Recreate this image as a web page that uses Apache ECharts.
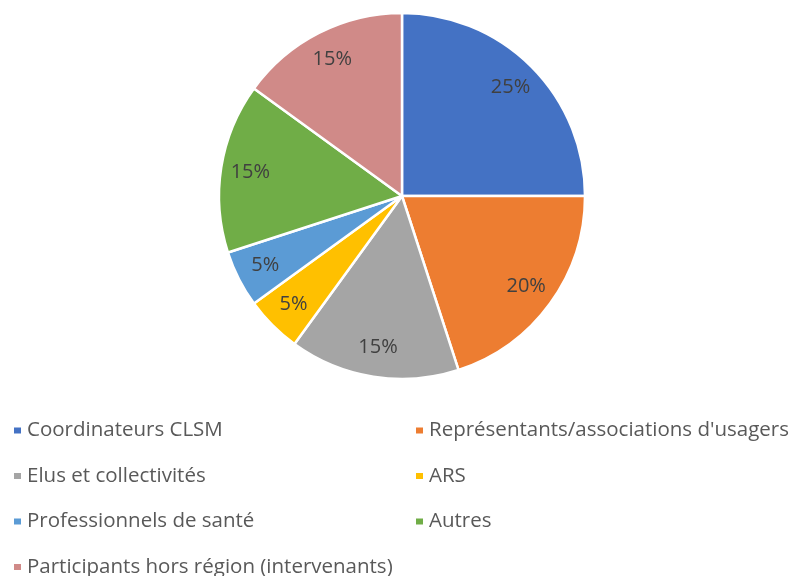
<!DOCTYPE html>
<html>
<head>
<meta charset="utf-8">
<script src="https://cdn.jsdelivr.net/npm/echarts@6/dist/echarts.min.js"></script>
<style>
  html, body { margin: 0; padding: 0; background: #fff; }
  #chart { width: 799px; height: 576px; }
</style>
</head>
<body>
<div id="chart"></div>
<script>
// categories and shares (percent)
var categories = [
    'Coordinateurs CLSM',
    "Représentants/associations d'usagers",
    'Elus et collectivités',
    'ARS',
    'Professionnels de santé',
    'Autres',
    'Participants hors région (intervenants)'
];
var shares = [25, 20, 15, 5, 5, 15, 15];
var colors = ['#4472C4', '#ED7D31', '#A5A5A5', '#FFC000', '#5B9BD5', '#70AD47', '#D08A88'];

var pieData = categories.map(function (name, i) {
    return { name: name, value: shares[i], itemStyle: { color: colors[i] } };
});

// legend is laid out in two columns, like the original
var leftCol = categories.filter(function (c, i) { return i % 2 === 0; });
var rightCol = categories.filter(function (c, i) { return i % 2 === 1; });

var font = '"Open Sans", sans-serif';
var legendBase = {
    orient: 'vertical',
    top: 420,
    height: 170,
    padding: 0,
    itemWidth: 9,
    itemHeight: 8,
    itemGap: 24.5,
    icon: 'rect',
    selectedMode: false,
    textStyle: { fontFamily: font, fontSize: 20.5, color: '#595959', lineHeight: 20 }
};

var chart = echarts.init(document.getElementById('chart'), null, { renderer: 'canvas' });
chart.setOption({
    animation: false,
    legend: [
        Object.assign({}, legendBase, { left: 12, data: leftCol }),
        Object.assign({}, legendBase, { left: 414, data: rightCol })
    ],
    series: [
        {
            type: 'pie',
            center: [402, 196],
            radius: [0, 183],
            startAngle: 90,
            clockwise: true,
            data: pieData,
            itemStyle: { borderColor: '#fff', borderWidth: 2.5 },
            label: { show: false },
            labelLine: { show: false },
            emphasis: { disabled: true }
        },
        {
            // transparent ring only used to place the labels at ~0.82 r
            type: 'pie',
            center: [402, 196],
            radius: [118, 183],
            startAngle: 90,
            clockwise: true,
            silent: true,
            data: categories.map(function (name, i) {
                return { name: name, value: shares[i] };
            }),
            itemStyle: { color: 'rgba(0,0,0,0)' },
            label: {
                show: true,
                position: 'inside',
                formatter: '{c}%',
                fontFamily: font,
                fontSize: 20,
                color: '#404040'
            },
            labelLine: { show: false },
            emphasis: { disabled: true }
        }
    ]
});
</script>
</body>
</html>
